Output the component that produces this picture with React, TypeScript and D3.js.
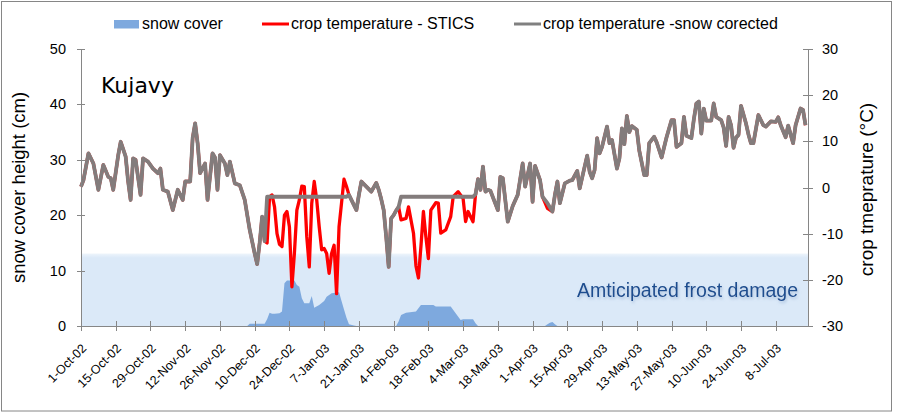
import React from 'react';
import * as d3 from 'd3';

// ---------- DATA ----------
const START_DATE = new Date(2002, 9, 1); // 1-Oct-02
const X_MAX_DAY = 293;
const TICK_STEP_DAYS = 14;
const TICK_LAST_DAY = 280;

// [day offset from 1-Oct-02, snow cover cm]
const snowCover: [number, number][] = [
  [0, 0], [67, 0], [68, 0.4], [74, 0.4], [75, 1.2], [76, 2.4], [77, 2.2], [78, 2.2], [80, 2.3], [81, 2.6],
  [82, 7.7], [83, 8.2], [86, 8.2], [87, 7.4], [88, 7.1], [89, 5.0], [90, 4.1], [92, 4.1], [93, 5.4], [94, 3.3],
  [96, 3.8], [98, 4.5], [99, 5.3], [101, 5.9], [104, 6.1], [105, 4.5], [106, 3.0], [107, 1.5], [108, 0.3],
  [110, 0.1], [111, 0], [127, 0], [128, 0.8], [129, 2.0], [131, 2.4], [135, 2.6], [137, 3.8], [142, 3.8],
  [143, 3.5], [149, 3.5], [151, 2.3], [153, 1.1], [154, 1.2], [158, 1.2], [159, 0.5], [160, 0], [187, 0],
  [188, 0.3], [189, 0.6], [190, 0.7], [191, 0.3], [192, 0], [292, 0],
];

// [day offset, crop temperature °C] (STICS)
const cropTempStics: [number, number][] = [
  [0, 0.2], [1, 1.6], [3, 7.4], [5, 5.2], [7, -0.5], [9, 4.9], [11, 2.3], [12, 2.0], [13, -0.5], [15, 7.0],
  [16, 9.9], [18, 6.7], [19, 1.3], [20, -2.7], [21, 6.3], [22, 6.0], [24, -1.6], [25, 6.3], [27, 5.6], [29, 4.1],
  [31, 3.1], [32, 4.1], [33, -0.5], [35, -0.9], [37, -4.9], [39, -0.5], [41, -2.7], [42, 1.3], [44, 1.3],
  [45, 10.7], [46, 13.9], [47, 9.6], [48, 3.1], [50, 5.2], [51, -2.7], [53, 7.4], [54, 6.5], [55, -0.5],
  [56, 7.0], [58, 5.2], [59, 2.7], [60, 5.6], [62, 0.9], [64, 0.5], [66, -2.7], [68, -9.2], [70, -14.3],
  [71, -16.6], [72, -12.0], [73, -6.3], [74, -11.6], [75, -12.0], [76, -2.0], [77, -1.6], [78, -4.2],
  [79, -10.0], [80, -12.3], [81, -12.8], [82, -6.0], [83, -5.2], [84, -8.5], [85, -21.5], [86, -14.3],
  [87, -4.9], [88, -2.7], [89, 0.3], [90, 0.2], [91, -10.7], [92, -17.2], [93, -3.4], [94, 1.3], [95, -2.7],
  [96, -8.5], [97, -13.5], [98, -13.2], [99, -14.3], [100, -18.6], [101, -14.3], [102, -12.5], [103, -23.0],
  [104, -8.5], [105, -3.4], [106, 1.8], [107, 0.2], [108, -1.6], [110, -3.8], [111, -4.9], [112, -1.6],
  [113, 1.3], [115, 0.2], [117, -0.9], [119, 1.0], [120, -0.5], [121, -2.5], [122, -4.9], [123, -10.7],
  [124, -17.2], [125, -6.7], [126, -6.0], [127, -5.0], [128, -4.2], [129, -7.0], [131, -6.7], [132, -4.2],
  [134, -9.9], [135, -17.0], [136, -19.6], [137, -12.8], [138, -5.2], [139, -10.7], [140, -15.4], [141, -4.9],
  [143, -3.3], [144, -3.4], [145, -9.9], [147, -9.2], [149, -6.3], [150, -2.0], [152, -0.9], [154, -2.4],
  [155, -7.4], [156, -5.2], [158, -7.4], [159, -1.5], [160, 1.8], [161, -0.5], [162, 4.5], [163, -0.9],
  [164, -0.5], [165, -0.7], [168, -4.9], [169, 2.3], [170, 2.0], [172, -7.4], [174, -4.0], [176, -1.6],
  [178, 5.2], [179, 0.2], [181, 5.2], [182, -3.1], [183, 4.7], [185, 1.6], [186, -2.0], [188, -4.5],
  [190, -5.2], [191, -1.6], [192, 1.3], [193, -3.4], [195, 0.9], [197, 1.5], [198, 1.6], [200, 3.6],
  [201, -0.2], [202, 2.2], [204, 6.9], [205, 3.4], [206, 2.0], [207, 3.8], [208, 10.7], [209, 7.4],
  [210, 8.8], [212, 13.2], [213, 9.6], [214, 10.3], [216, 4.1], [217, 6.3], [218, 12.8], [219, 9.4],
  [220, 15.5], [221, 12.0], [222, 13.3], [224, 12.5], [225, 8.0], [227, 2.7], [228, 2.7], [229, 9.6],
  [231, 11.0], [232, 9.8], [234, 6.5], [236, 10.9], [238, 14.6], [239, 14.6], [240, 8.8], [242, 9.6],
  [243, 15.3], [244, 11.2], [246, 10.7], [247, 14.8], [248, 18.2], [249, 18.6], [250, 11.7], [251, 17.1],
  [252, 14.5], [254, 14.5], [255, 18.2], [256, 15.3], [258, 14.6], [259, 13.0], [260, 9.0], [261, 15.3],
  [262, 13.5], [263, 8.6], [264, 10.8], [265, 11.4], [266, 17.7], [268, 13.9], [269, 11.5], [270, 9.6],
  [271, 9.6], [273, 15.7], [275, 13.5], [276, 13.2], [278, 14.3], [280, 14.2], [281, 15.2], [282, 13.5],
  [284, 10.9], [285, 13.4], [287, 9.6], [288, 13.5], [290, 17.1], [291, 16.8], [292, 13.5],
];

// snow-corrected temperature: flat value while snow covers the crop
const correctedFlatWindows: [number, number][] = [[75, 107], [129, 158]];
const correctedFlatValue = -2.0;
const correctedOverrides: [number, number][] = [[188, -3.4]];

const leftTicks = [0, 10, 20, 30, 40, 50];
const rightTicks = [-30, -20, -10, 0, 10, 20, 30];
const frostThresholdTemp = -14.3;

const legendLabels = ['snow cover', 'crop temperature - STICS', 'crop temperature -snow corected'];

// ---------- CHART ----------
const W = 897, H = 414;
const PL = 81, PR = 808, PT = 49, PB = 326;
const FONT = "'Liberation Sans', Arial, sans-serif";
const AXIS = '#868686';

export default function App() {
  const x = d3.scaleLinear().domain([0, X_MAX_DAY]).range([PL, PR]);
  const yL = d3.scaleLinear().domain([0, 50]).range([PB, PT]);
  const yR = d3.scaleLinear().domain([-30, 30]).range([PB, PT]);

  const corrected: [number, number][] = cropTempStics
    .filter(([d]) => !correctedFlatWindows.some(([a, b]) => d >= a && d <= b))
    .map(([d, v]) => {
      const o = correctedOverrides.find((p) => p[0] === d);
      return [d, o ? o[1] : v] as [number, number];
    });
  correctedFlatWindows.forEach(([a, b]) => {
    corrected.push([a, correctedFlatValue], [b, correctedFlatValue]);
  });
  corrected.sort((p, q) => p[0] - q[0]);

  const area = d3.area<[number, number]>()
    .x((d) => x(d[0]))
    .y0(yL(0))
    .y1((d) => yL(d[1]));
  const line = d3.line<[number, number]>()
    .x((d) => x(d[0]))
    .y((d) => yR(d[1]));

  const xTicks = d3.range(0, TICK_LAST_DAY + 1, TICK_STEP_DAYS);
  const fmt = d3.timeFormat('%-d-%b-%y');
  const bandTop = yR(frostThresholdTemp);

  return (
    <svg width={W} height={H} style={{ position: 'absolute', left: 0, top: 0, background: '#fff' }}
      fontFamily={FONT}>
      <defs>
        <linearGradient id="bandGrad" x1="0" y1="0" x2="0" y2="1">
          <stop offset="0" stopColor="#dceaf8" stopOpacity="0.5" />
          <stop offset="0.06" stopColor="#dbe9f8" stopOpacity="1" />
          <stop offset="1" stopColor="#dbe9f8" stopOpacity="1" />
        </linearGradient>
        <filter id="glow" x="-10%" y="-30%" width="120%" height="180%">
          <feGaussianBlur in="SourceAlpha" stdDeviation="1.6" />
          <feOffset dx="0.5" dy="2" result="b" />
          <feFlood floodColor="#7f9fc8" floodOpacity="0.55" />
          <feComposite in2="b" operator="in" />
          <feMerge>
            <feMergeNode />
            <feMergeNode in="SourceGraphic" />
          </feMerge>
        </filter>
      </defs>
      <rect x={1.5} y={1.5} width={890} height={409.5} fill="#fff" stroke={AXIS} strokeWidth={1} />

      {/* frost band */}
      <rect x={PL} y={bandTop} width={PR - PL} height={PB - bandTop} fill="url(#bandGrad)" />

      {/* snow area */}
      <path d={area(snowCover) || ''} fill="#7ea9de" />

      {/* temperature lines */}
      <path d={line(cropTempStics) || ''} fill="none" stroke="#ff0000" strokeWidth={3.3} strokeLinejoin="round" />
      <path d={line(corrected) || ''} fill="none" stroke="#837c7c" strokeWidth={3.8} strokeLinejoin="round" />

      {/* annotations */}
      <text x={101} y={93} fontSize={22} fontFamily="'DejaVu Sans', sans-serif" fill="#000">Kujavy</text>
      <text x={798} y={297} textAnchor="end" fontSize={19.5} fill="#1f4e8f" filter="url(#glow)">Amticipated frost damage</text>

      {/* left axis */}
      <line x1={PL + 0.5} x2={PL + 0.5} y1={PT} y2={PB} stroke={AXIS} />
      {leftTicks.map((t) => (
        <g key={'l' + t}>
          <line x1={PL - 4} x2={PL + 4} y1={Math.round(yL(t)) + 0.5} y2={Math.round(yL(t)) + 0.5} stroke={AXIS} />
          <text x={66} y={yL(t)} dy="0.35em" textAnchor="end" fontSize={14.5} fill="#000">{t}</text>
        </g>
      ))}
      {/* right axis */}
      <line x1={PR + 0.5} x2={PR + 0.5} y1={PT} y2={PB} stroke={AXIS} />
      {rightTicks.map((t) => (
        <g key={'r' + t}>
          <line x1={PR - 5} x2={PR + 5} y1={Math.round(yR(t)) + 0.5} y2={Math.round(yR(t)) + 0.5} stroke={AXIS} />
          <text x={822} y={yR(t)} dy="0.35em" textAnchor="start" fontSize={14.5} fill="#000">{t}</text>
        </g>
      ))}
      {/* x axis */}
      <line x1={PL} x2={PR + 1} y1={PB + 0.5} y2={PB + 0.5} stroke={AXIS} />
      {xTicks.map((d) => (
        <g key={'x' + d}>
          <line x1={Math.round(x(d)) + 0.5} x2={Math.round(x(d)) + 0.5} y1={PB - 5} y2={PB + 5} stroke={AXIS} />
          <text transform={`translate(${x(d) + 3},${346}) rotate(-45)`} textAnchor="end" dy="0.35em"
            fontSize={12.5} fill="#000">{fmt(d3.timeDay.offset(START_DATE, d))}</text>
        </g>
      ))}

      {/* axis titles */}
      <text transform={`translate(25,${(PT + PB) / 2}) rotate(-90)`} textAnchor="middle" fontSize={18.5} fill="#000">snow cover height (cm)</text>
      <text transform={`translate(873,${(PT + PB) / 2 + 2}) rotate(-90)`} textAnchor="middle" fontSize={19} fill="#000">crop tmeprature (°C)</text>

      {/* legend */}
      <rect x={114} y={20} width={25} height={8.5} fill="#7ea9de" />
      <text x={142} y={29} fontSize={16} fill="#000">{legendLabels[0]}</text>
      <line x1={262} x2={289} y1={24} y2={24} stroke="#ff0000" strokeWidth={3} />
      <text x={291} y={29} fontSize={16} fill="#000">{legendLabels[1]}</text>
      <line x1={514} x2={541} y1={24} y2={24} stroke="#808080" strokeWidth={3} />
      <text x={543} y={29} fontSize={16} fill="#000">{legendLabels[2]}</text>
    </svg>
  );
}
